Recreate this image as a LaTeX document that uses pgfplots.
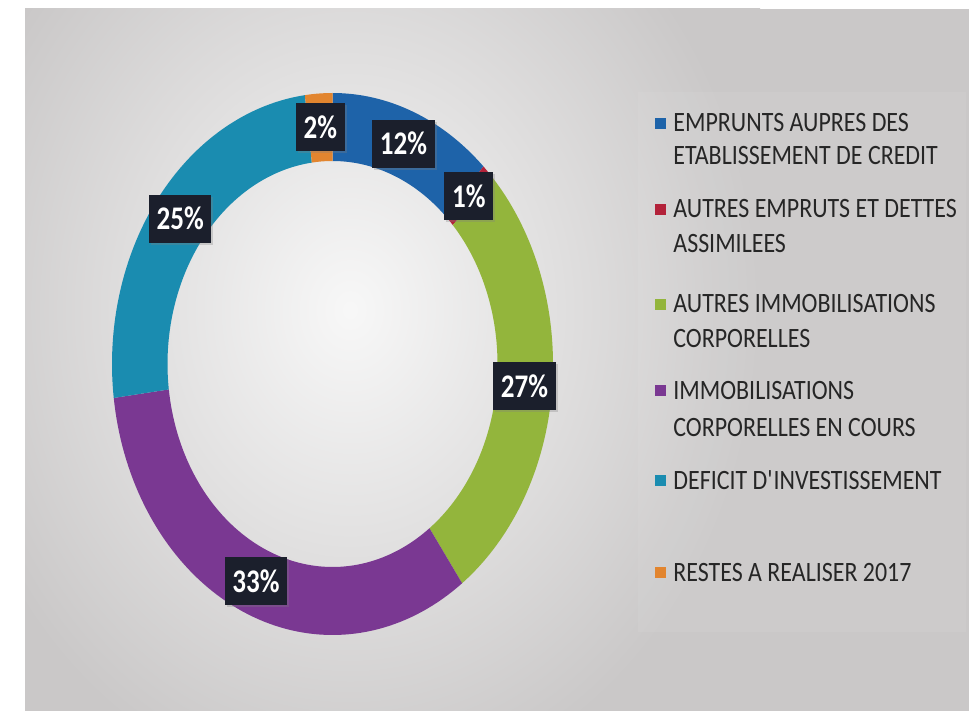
\documentclass[border=0pt]{standalone}
\usepackage{pgfplots}
\pgfplotsset{compat=1.18}
\usepackage{pgfplotstable}
\usepackage{fontspec}
\setmainfont[FakeStretch=0.82]{Carlito}
\newfontfamily\legfont[FakeStretch=0.855]{Carlito}
\usetikzlibrary{shadows}

\definecolor{cBlue}{HTML}{1E63A9}
\definecolor{cRed}{HTML}{B3223A}
\definecolor{cGreen}{HTML}{93B53C}
\definecolor{cPurple}{HTML}{7A3892}
\definecolor{cTeal}{HTML}{1A8CB0}
\definecolor{cOrange}{HTML}{E2852F}
\definecolor{cPanel}{HTML}{CAC8C8}
\definecolor{cBox}{HTML}{1B1F2C}
\definecolor{cText}{HTML}{262626}

% share of each item, clockwise from 12 o'clock
\pgfplotstableread{
pct col
12  cBlue
1   cRed
27  cGreen
33  cPurple
25  cTeal
2   cOrange
}\donutdata

\begin{document}
\begin{tikzpicture}
\pgfplotstablegetrowsof{\donutdata}
\pgfmathtruncatemacro{\nrows}{\pgfplotsretval-1}
\xdef\angstart{90}
\foreach \i in {0,...,\nrows}{
  \pgfplotstablegetelem{\i}{pct}\of{\donutdata}
  \expandafter\xdef\csname pv\i\endcsname{\pgfplotsretval}
  \pgfmathsetmacro{\angend}{\angstart-3.6*\pgfplotsretval}
  \pgfmathsetmacro{\angmid}{\angstart-1.8*\pgfplotsretval}
  \expandafter\xdef\csname aS\i\endcsname{\angstart}
  \expandafter\xdef\csname aE\i\endcsname{\angend}
  \expandafter\xdef\csname aM\i\endcsname{\angmid}
  \pgfplotstablegetelem{\i}{col}\of{\donutdata}
  \xglobal\colorlet{seg\i}{\pgfplotsretval}
  \xdef\angstart{\angend}
}
\begin{axis}[
    width=484.5pt, height=355.5pt, scale only axis,
    hide axis,
    xmin=0, xmax=969, ymin=0, ymax=711,
    y dir=reverse,
]
% background panel
\fill[white] (0,0) rectangle (969,711);
\begin{scope}
  \clip (25,9) rectangle (969,711);
  \fill[cPanel] (25,9) rectangle (969,711);
  \shade[inner color=white!94!gray, outer color=cPanel] (-60,-180) rectangle (760,800);
\end{scope}
\fill[white, opacity=0.06] (638,92) rectangle (966,632);

% ring segments
\pgfplotsinvokeforeach{0,...,\nrows}{
  \fill[seg#1] plot[domain=\csname aS#1\endcsname:\csname aE#1\endcsname, samples=80, variable=\t]
      ({332.5+220.5*cos(\t)},{364-271*sin(\t)})
    -- plot[domain=\csname aE#1\endcsname:\csname aS#1\endcsname, samples=80, variable=\t]
      ({332.5+165*cos(\t)},{364-203*sin(\t)}) -- cycle;
}
% value labels
\pgfplotsinvokeforeach{0,...,\nrows}{
  \node[fill=cBox, text=white, font=\fontsize{16.5}{18}\selectfont\bfseries,
        minimum height=24pt, inner xsep=3.8pt,
        drop shadow={opacity=0.3, shadow xshift=1pt, shadow yshift=-1pt}]
    at ({332.5+192.75*cos(\csname aM#1\endcsname)},{364-237*sin(\csname aM#1\endcsname)})
    {\csname pv#1\endcsname\%};
}

% legend
\begin{scope}[every node/.style={anchor=base west, inner sep=0pt, text=cText,
    font=\legfont\fontsize{14}{16}\selectfont}]
\node at (673,132) {EMPRUNTS AUPRES DES};
\node at (673,165) {ETABLISSEMENT DE CREDIT};
\node at (673,218) {AUTRES EMPRUTS ET DETTES};
\node at (673,253) {ASSIMILEES};
\node at (673,313) {AUTRES IMMOBILISATIONS};
\node at (673,347) {CORPORELLES};
\node at (673,399) {IMMOBILISATIONS};
\node at (673,436) {CORPORELLES EN COURS};
\node at (673,489) {DEFICIT D\textquotesingle INVESTISSEMENT};
\node at (673,581) {RESTES A REALISER 2017};
\end{scope}
\fill[cBlue]   (655,118) rectangle (666,129);
\fill[cRed]    (655,204) rectangle (666,215);
\fill[cGreen]  (655,299) rectangle (666,310);
\fill[cPurple] (655,385) rectangle (666,396);
\fill[cTeal]   (655,475) rectangle (666,486);
\fill[cOrange] (655,567) rectangle (666,578);
\end{axis}
\end{tikzpicture}
\end{document}
